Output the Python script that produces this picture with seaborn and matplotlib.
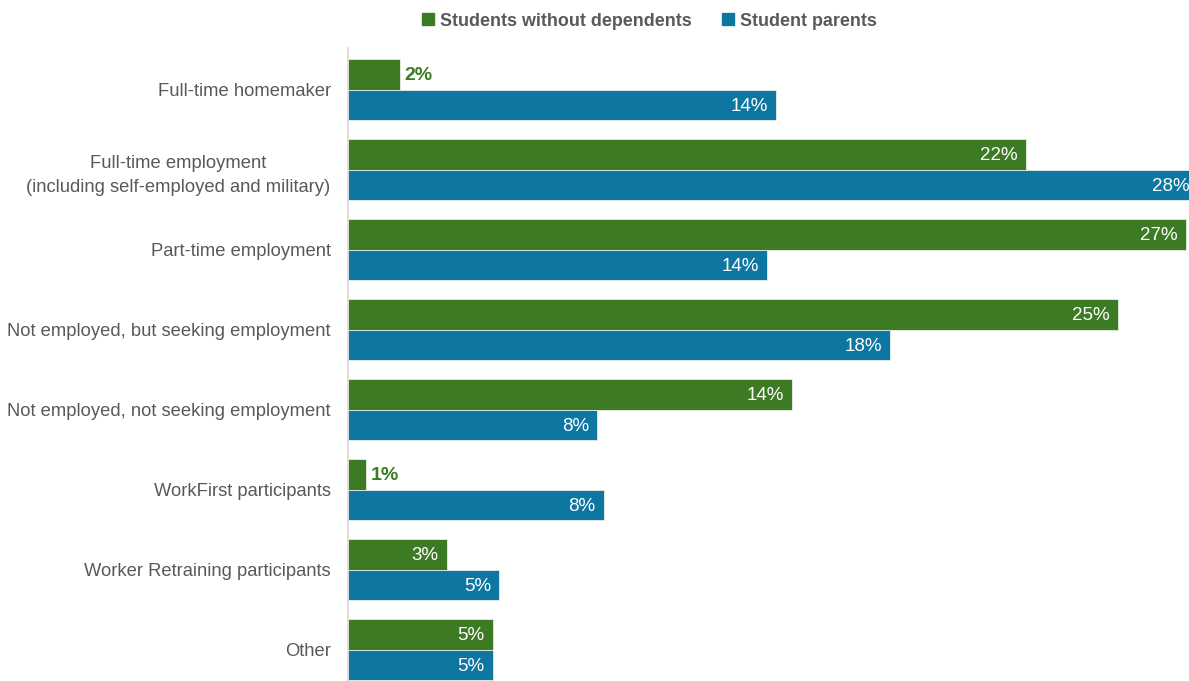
import matplotlib
matplotlib.use("Agg")
import matplotlib.pyplot as plt
from matplotlib.lines import Line2D
import seaborn as sns
import pandas as pd

categories = [
    "Full-time homemaker",
    "Full-time employment\n(including self-employed and military)",
    "Part-time employment",
    "Not employed, but seeking employment",
    "Not employed, not seeking employment",
    "WorkFirst participants",
    "Worker Retraining participants",
    "Other",
]
series_names = ["Students without dependents", "Student parents"]
without_dependents = [1.7, 22.0, 27.2, 25.0, 14.4, 0.6, 3.2, 4.7]
student_parents = [13.9, 27.6, 13.6, 17.6, 8.1, 8.3, 4.9, 4.7]

colors = ["#3c7b23", "#0d76a1"]

df = pd.DataFrame({
    "category": categories * 2,
    "group": [series_names[0]] * len(categories) + [series_names[1]] * len(categories),
    "value": without_dependents + student_parents,
})

sns.set_theme(style="white")
plt.rcParams["font.family"] = ["Liberation Sans", "DejaVu Sans"]

fig = plt.figure(figsize=(11.89, 6.81), dpi=100)
W, H = 1189, 681
ax = fig.add_axes([348 / W, 0, (W - 348) / W, (H - 48) / H])

sns.barplot(data=df, y="category", x="value", hue="group", orient="h",
            palette=colors, hue_order=series_names, order=categories,
            width=0.77, saturation=1, edgecolor="#e8efe4", linewidth=0.6,
            ax=ax, legend=False)

xmax = 841 / 30.8
ax.set_xlim(0, xmax)
ax.set_ylim(7.38 + 0.0125, -0.53125 + 0.0125)

# value labels
px = xmax / 841.0  # data units per pixel
for ci, cont in enumerate(ax.containers):
    vals = without_dependents if ci == 0 else student_parents
    for bar, v in zip(cont.patches, vals):
        yc = bar.get_y() + bar.get_height() / 2
        lab = f"{round(v):d}%"
        if v < 2.5:
            ax.text(v + 4 * px, yc + 0.02, lab, ha="left", va="center", color=colors[ci],
                    fontsize=14, fontweight="bold")
        else:
            ax.text(v - 8 * px, yc + 0.02, lab, ha="right", va="center", color="white",
                    fontsize=13.5)

ax.set_xlabel("")
ax.set_ylabel("")
ax.set_xticks([])
ax.tick_params(axis="y", length=0, pad=12.5, labelsize=13.2, labelcolor="#595959")
for lbl in ax.get_yticklabels():
    lbl.set_multialignment("center")
    lbl.set_linespacing(1.6)
for s in ["top", "right", "bottom"]:
    ax.spines[s].set_visible(False)
ax.spines["left"].set_color("#d9d9d9")
ax.spines["left"].set_linewidth(1.2)

handles = [Line2D([], [], marker="s", linestyle="", markersize=9,
                  markerfacecolor=c, markeredgecolor=c) for c in colors]
fig.legend(handles, series_names, loc="center", bbox_to_anchor=(648 / W, 1 - 21 / H),
           ncol=2, frameon=False, handletextpad=0.2, columnspacing=1.5,
           prop={"family": "Liberation Sans", "weight": "bold", "size": 12.9},
           labelcolor="#595959", handlelength=1.0)

fig.savefig("out.png", dpi=100)
